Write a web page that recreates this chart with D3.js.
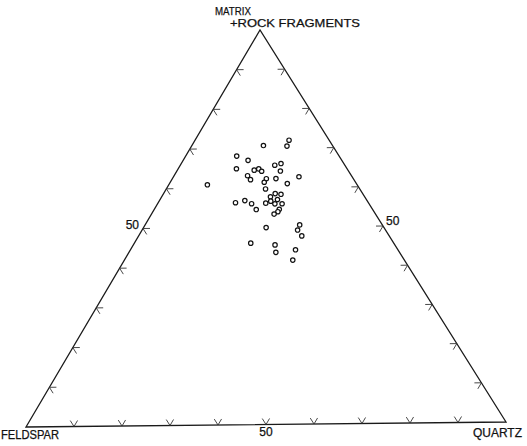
<!DOCTYPE html>
<html>
<head>
<meta charset="utf-8">
<script src="https://cdn.jsdelivr.net/npm/d3@7"></script>
<style>
  html, body { margin: 0; padding: 0; background: #fff; }
  svg { display: block; }
  text { font-family: "Liberation Sans", Arial, sans-serif; fill: #111; stroke: #111; stroke-width: 0.25; }
</style>
</head>
<body>
<svg id="chart" width="527" height="446"></svg>
<script>
// Sample compositions (%): quartz, feldspar, matrix + rock fragments
const quartz = [19.7, 20.0, 15.0, 10.7, 13.6, 20.9, 19.8, 12.2, 16.1, 16.9, 17.8, 21.7, 15.4, 16.5, 19.7,
  21.7, 19.7, 26.3, 24.7, 8.1, 20.8, 23.4, 24.7, 22.8, 16.2, 17.9, 19.7, 23.4, 24.6, 22.6,
  24.6, 26.1, 21.4, 26.2, 26.2, 25.7, 25.7, 32.4, 32.6, 34.2, 24.4, 29.7, 30.8, 34.6, 35.3];
const matrix = [72.0, 70.5, 70.7, 68.1, 67.0, 66.1, 65.7, 64.9, 64.5, 64.8, 64.2, 64.2, 63.1, 62.1, 62.3,
  62.3, 61.4, 62.7, 61.0, 60.9, 59.7, 58.5, 58.3, 57.7, 56.3, 56.8, 56.0, 56.6, 57.0, 56.1,
  55.9, 55.9, 54.5, 54.5, 53.9, 53.3, 49.9, 50.5, 49.2, 47.7, 46.0, 45.5, 43.6, 44.2, 41.6];
const feldspar = quartz.map((q, i) => +(100 - q - matrix[i]).toFixed(1));

const tickFractions = [10, 20, 30, 40, 50, 60, 70, 80, 90];
const vertexLabels = { matrix: ["MATRIX", "+ROCK FRAGMENTS"], feldspar: "FELDSPAR", quartz: "QUARTZ" };
const midLabel = "50";

const svg = d3.select("#chart");

// Vertex screen positions (feldspar = left, quartz = right, matrix = top)
const V = { F: [26, 427], Q: [506, 422], M: [260, 30] };
const sq = d3.scaleLinear().domain([0, 100]).range([0, 1]);

function project(q, f, m) {
  const a = sq(q), b = sq(f), c = sq(m);
  const s = a + b + c;
  return [(a * V.Q[0] + b * V.F[0] + c * V.M[0]) / s,
          (a * V.Q[1] + b * V.F[1] + c * V.M[1]) / s];
}

const line = d3.line();
svg.append("path")
  .attr("d", line([V.F, V.Q, V.M]) + "Z")
  .attr("fill", "none").attr("stroke", "#1a1a1a").attr("stroke-width", 1.3)
  .attr("stroke-linejoin", "miter");

function unit(a, b) {
  const dx = b[0] - a[0], dy = b[1] - a[1], l = Math.hypot(dx, dy);
  return [dx / l, dy / l];
}
const armLen = 7;
function chevron(p, d1, d2) {
  return line([[p[0] + d1[0] * armLen, p[1] + d1[1] * armLen], p,
               [p[0] + d2[0] * armLen, p[1] + d2[1] * armLen]]);
}

const ticks = svg.append("g").attr("fill", "none").attr("stroke", "#333").attr("stroke-width", 0.9);
tickFractions.forEach(t => {
  // base: feldspar -> quartz
  ticks.append("path").attr("d", chevron(project(t, 100 - t, 0), unit(V.Q, V.M), unit(V.F, V.M)));
  // left: feldspar -> matrix
  ticks.append("path").attr("d", chevron(project(0, 100 - t, t), unit(V.F, V.Q), unit(V.M, V.Q)));
  // right: quartz -> matrix
  ticks.append("path").attr("d", chevron(project(100 - t, 0, t), unit(V.Q, V.F), unit(V.M, V.F)));
});

// data points
svg.append("g").selectAll("circle")
  .data(quartz.map((q, i) => ({ q, f: feldspar[i], m: matrix[i] })))
  .join("circle")
  .attr("cx", d => project(d.q, d.f, d.m)[0])
  .attr("cy", d => project(d.q, d.f, d.m)[1])
  .attr("r", 2.2)
  .attr("fill", "#fff").attr("stroke", "#111").attr("stroke-width", 1.2);

// labels
const fs = 12;
svg.append("text").attr("x", 215).attr("y", 15).attr("font-size", 11.5)
  .attr("textLength", 36).attr("lengthAdjust", "spacingAndGlyphs").text(vertexLabels.matrix[0]);
svg.append("text").attr("x", 230).attr("y", 27).attr("font-size", 11.5)
  .attr("textLength", 130).attr("lengthAdjust", "spacingAndGlyphs").text(vertexLabels.matrix[1]);
svg.append("text").attr("x", 1).attr("y", 439).attr("font-size", fs)
  .attr("textLength", 58).attr("lengthAdjust", "spacingAndGlyphs").text(vertexLabels.feldspar);
svg.append("text").attr("x", 473).attr("y", 437).attr("font-size", fs)
  .attr("textLength", 49).attr("lengthAdjust", "spacingAndGlyphs").text(vertexLabels.quartz);

const pb = project(50, 50, 0), pl = project(0, 50, 50), pr = project(50, 0, 50);
svg.append("text").attr("x", pb[0]).attr("y", 436).attr("font-size", fs)
  .attr("text-anchor", "middle").text(midLabel);
svg.append("text").attr("x", pl[0] - 4).attr("y", 229).attr("font-size", fs)
  .attr("text-anchor", "end").text(midLabel);
svg.append("text").attr("x", pr[0] + 3).attr("y", 225).attr("font-size", fs)
  .attr("text-anchor", "start").text(midLabel);
</script>
</body>
</html>
